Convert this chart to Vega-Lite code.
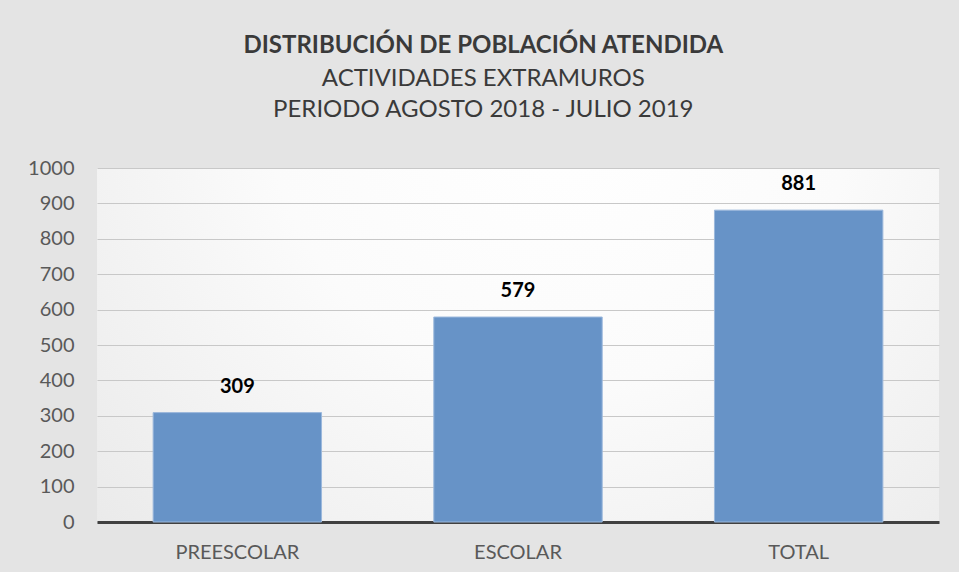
{
  "$schema": "https://vega.github.io/schema/vega-lite/v6.json",
  "width": 842,
  "height": 354,
  "padding": {"left": 27, "top": 34, "right": 20, "bottom": 10},
  "background": "#e4e4e4",
  "title": {
    "text": "DISTRIBUCIÓN DE POBLACIÓN ATENDIDA",
    "subtitle": ["ACTIVIDADES EXTRAMUROS", "PERIODO AGOSTO 2018 - JULIO 2019"],
    "anchor": "middle",
    "frame": "bounds",
    "font": "Lato",
    "fontSize": 24,
    "fontWeight": "bold",
    "color": "#3a3a3a",
    "subtitleFont": "Lato",
    "subtitleFontSize": 24,
    "subtitleFontWeight": "normal",
    "subtitleColor": "#3a3a3a",
    "subtitlePadding": 9,
    "subtitleLineHeight": 31,
    "offset": 36
  },
  "data": {
    "values": [
      {"categoria": "PREESCOLAR", "poblacion": 309},
      {"categoria": "ESCOLAR", "poblacion": 579},
      {"categoria": "TOTAL", "poblacion": 881}
    ]
  },
  "encoding": {
    "x": {
      "field": "categoria",
      "type": "nominal",
      "sort": null,
      "scale": {"paddingInner": 0.4, "paddingOuter": 0.2},
      "axis": {
        "title": null,
        "labelAngle": 0,
        "labelFont": "Lato",
        "labelFontSize": 20,
        "labelColor": "#595959",
        "labelPadding": 20,
        "ticks": false,
        "domainColor": "#404040",
        "domainWidth": 3,
        "grid": false
      }
    },
    "y": {
      "field": "poblacion",
      "type": "quantitative",
      "scale": {"domain": [0, 1000]},
      "axis": {
        "title": null,
        "format": "d",
        "values": [0, 100, 200, 300, 400, 500, 600, 700, 800, 900, 1000],
        "labelFont": "Lato",
        "labelFontSize": 20,
        "labelColor": "#595959",
        "labelPadding": 23,
        "ticks": false,
        "domain": false,
        "gridColor": "#c8c8c8",
        "gridWidth": 1
      }
    }
  },
  "layer": [
    {
      "mark": {"type": "bar", "color": "#6793c7", "stroke": "#9bb8dc", "strokeWidth": 1}
    },
    {
      "mark": {"type": "text", "baseline": "bottom", "dy": -16, "font": "Lato", "fontSize": 20, "fontWeight": "bold", "color": "#000000"},
      "encoding": {"text": {"field": "poblacion", "type": "quantitative"}}
    }
  ],
  "config": {
    "view": {
      "stroke": null,
      "fill": {
        "gradient": "radial",
        "x1": 0.55, "y1": 0.2, "x2": 0.55, "y2": 0.2,
        "r1": 0, "r2": 1,
        "stops": [{"offset": 0, "color": "#ffffff"}, {"offset": 0.35, "color": "#fbfbfb"}, {"offset": 1, "color": "#e0e0e0"}]
      }
    }
  }
}
